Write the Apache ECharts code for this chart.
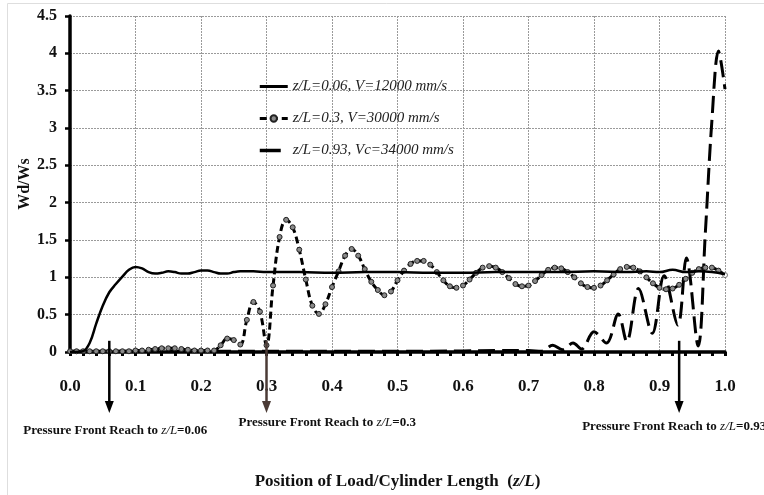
<!DOCTYPE html>
<html><head><meta charset="utf-8">
<script src="https://cdn.jsdelivr.net/npm/echarts@6/dist/echarts.min.js"></script>
<style>html,body{margin:0;padding:0;background:#fff}#c{width:764px;height:495px}</style>
</head><body><div id="c"></div>
<script>
const seriesNames = ['z/L=0.06, V=12000 mm/s', 'z/L=0.3, V=30000 mm/s', 'z/L=0.93, Vc=34000 mm/s'];

const s1X = [0, 0.01, 0.02, 0.03, 0.04, 0.05, 0.06, 0.07, 0.08, 0.09, 0.10, 0.11, 0.12, 0.13, 0.14, 0.15, 0.16, 0.17, 0.18, 0.19, 0.20, 0.21, 0.22, 0.23, 0.24, 0.25, 0.26, 0.28, 0.30, 0.35, 0.40, 0.45, 0.50, 0.55, 0.60, 0.65, 0.70, 0.75, 0.80, 0.85, 0.88, 0.90, 0.92, 0.94, 0.96, 0.98, 1.00];
const s1Y = [0, 0, 0.01, 0.12, 0.38, 0.62, 0.80, 0.91, 1.01, 1.10, 1.14, 1.12, 1.07, 1.05, 1.06, 1.08, 1.07, 1.05, 1.05, 1.07, 1.09, 1.09, 1.07, 1.05, 1.05, 1.07, 1.08, 1.08, 1.07, 1.07, 1.06, 1.07, 1.07, 1.06, 1.06, 1.07, 1.07, 1.07, 1.08, 1.07, 1.08, 1.07, 1.10, 1.07, 1.08, 1.07, 1.04];

const s2X = [0, 0.01, 0.02, 0.03, 0.04, 0.05, 0.06, 0.07, 0.08, 0.09, 0.10, 0.11, 0.12, 0.13, 0.14, 0.15, 0.16, 0.17, 0.18, 0.19, 0.20, 0.21, 0.22, 0.23, 0.24, 0.25, 0.26, 0.27, 0.28, 0.29, 0.30, 0.31, 0.32, 0.33, 0.34, 0.35, 0.36, 0.37, 0.38, 0.39, 0.40, 0.41, 0.42, 0.43, 0.44, 0.45, 0.46, 0.47, 0.48, 0.49, 0.50, 0.51, 0.52, 0.53, 0.54, 0.55, 0.56, 0.57, 0.58, 0.59, 0.60, 0.61, 0.62, 0.63, 0.64, 0.65, 0.66, 0.67, 0.68, 0.69, 0.70, 0.71, 0.72, 0.73, 0.74, 0.75, 0.76, 0.77, 0.78, 0.79, 0.80, 0.81, 0.82, 0.83, 0.84, 0.85, 0.86, 0.87, 0.88, 0.89, 0.90, 0.91, 0.92, 0.93, 0.94, 0.95, 0.96, 0.97, 0.98, 0.99, 1.00];
const s2Y = [0.01, 0.01, 0.01, 0.01, 0.01, 0.01, 0.01, 0.01, 0.01, 0.01, 0.02, 0.02, 0.03, 0.04, 0.05, 0.05, 0.05, 0.04, 0.03, 0.02, 0.02, 0.02, 0.02, 0.09, 0.18, 0.16, 0.10, 0.43, 0.67, 0.54, 0.09, 0.89, 1.54, 1.77, 1.67, 1.37, 0.97, 0.62, 0.51, 0.64, 0.87, 1.08, 1.29, 1.38, 1.29, 1.11, 0.94, 0.83, 0.76, 0.81, 0.96, 1.09, 1.18, 1.22, 1.22, 1.17, 1.07, 0.96, 0.88, 0.86, 0.89, 0.97, 1.06, 1.13, 1.15, 1.13, 1.07, 0.99, 0.91, 0.88, 0.89, 0.95, 1.03, 1.10, 1.13, 1.12, 1.07, 1.00, 0.92, 0.87, 0.86, 0.89, 0.96, 1.04, 1.11, 1.14, 1.13, 1.08, 1.00, 0.92, 0.86, 0.84, 0.85, 0.90, 0.98, 1.06, 1.11, 1.13, 1.13, 1.09, 1.03];

const s3X = [0, 0.10, 0.20, 0.30, 0.40, 0.50, 0.60, 0.65, 0.70, 0.72, 0.737, 0.752, 0.768, 0.781, 0.800, 0.819, 0.837, 0.850, 0.868, 0.889, 0.907, 0.928, 0.941, 0.959, 0.970, 0.980, 0.990, 1.000];
const s3Y = [0.01, 0.01, 0.01, 0.01, 0.01, 0.01, 0.015, 0.02, 0.02, 0.01, 0.09, 0.03, 0.12, 0.04, 0.27, 0.12, 0.51, 0.14, 0.85, 0.25, 1.02, 0.36, 1.26, 0.08, 1.60, 3.10, 4.03, 3.52];

const arrowX = [0.06, 0.3, 0.93];
const arrowValues = ['0.06', '0.3', '0.93'];

const serif = 'Liberation Serif, Times New Roman, serif';
const pair = (xs, ys) => xs.map((x, i) => [x, ys[i]]);

const chart = echarts.init(document.getElementById('c'), null, {renderer: 'canvas'});

const s2Data = pair(s2X, s2Y).map((p, i, a) => i === a.length - 1
  ? {value: p, itemStyle: {color: '#fff', borderColor: '#777'}} : p);

const hideSym = {color: 'rgba(0,0,0,0)', borderColor: 'rgba(0,0,0,0)', borderWidth: 0, opacity: 0};

chart.setOption({
  animation: false,
  backgroundColor: '#fff',
  grid: {left: 70, right: 39, top: 16, bottom: 133, containLabel: false},
  legend: {
    orient: 'vertical', left: 258, top: 79, padding: 0, itemGap: 17, itemWidth: 28, itemHeight: 8,
    textStyle: {fontFamily: serif, fontStyle: 'italic', fontSize: 15, color: '#222', lineHeight: 14.5},
    data: [
      {name: seriesNames[0], itemStyle: hideSym, lineStyle: {width: 3}},
      {name: seriesNames[1], lineStyle: {width: 3}},
      {name: seriesNames[2], itemStyle: hideSym, lineStyle: {width: 3.5, type: [21, 10]}}
    ]
  },
  xAxis: {
    type: 'value', min: 0, max: 1, interval: 0.1,
    name: 'Position of Load/Cylinder Length  ({i|z/L})',
    nameLocation: 'middle', nameGap: 121, nameMoveOverlap: false,
    nameTextStyle: {fontFamily: serif, fontWeight: 'bold', fontSize: 17, color: '#111',
      rich: {i: {fontFamily: serif, fontStyle: 'italic', fontSize: 17, color: '#111'}}},
    axisLine: {show: true, onZero: false, lineStyle: {color: '#000', width: 3.5}},
    axisTick: {show: true, length: 4, lineStyle: {color: '#000', width: 3}},
    minorTick: {show: true, splitNumber: 5, length: 4, lineStyle: {color: '#000', width: 3}},
    axisLabel: {formatter: v => v.toFixed(1), fontFamily: serif, fontWeight: 'bold', fontSize: 17, color: '#111', margin: 26},
    splitLine: {show: true, lineStyle: {color: '#9a9a9a', width: 1, type: [2, 1]}}
  },
  yAxis: {
    type: 'value', min: 0, max: 4.5, interval: 0.5,
    name: 'Wd/Ws', nameLocation: 'middle', nameGap: 37, nameRotate: 90, nameMoveOverlap: false,
    nameTextStyle: {fontFamily: serif, fontWeight: 'bold', fontSize: 16, color: '#111'},
    axisLine: {show: true, lineStyle: {color: '#000', width: 3.5}},
    axisTick: {show: true, length: 5, lineStyle: {color: '#000', width: 2.5}},
    axisLabel: {fontFamily: serif, fontWeight: 'bold', fontSize: 16, color: '#111', margin: 13},
    splitLine: {show: true, lineStyle: {color: '#9a9a9a', width: 1, type: [2, 1]}}
  },
  series: [
    {
      name: seriesNames[2], type: 'line', data: pair(s3X, s3Y), smooth: 0.35,
      symbol: 'none', z: 2,
      lineStyle: {color: '#000', width: 3, type: [17, 7]},
      itemStyle: {color: '#000'}
    },
    {
      name: seriesNames[1], type: 'line', data: s2Data, smooth: 0.4,
      symbol: 'circle', symbolSize: 5, showSymbol: true, z: 3,
      lineStyle: {color: '#000', width: 3, type: [7, 4]},
      itemStyle: {color: '#8a8a8a', borderColor: '#222', borderWidth: 1}
    },
    {
      name: seriesNames[0], type: 'line', data: pair(s1X, s1Y), smooth: 0.4,
      symbol: 'none', z: 4,
      lineStyle: {color: '#000', width: 2.5},
      itemStyle: {color: '#000'}
    }
  ]
});

const textOffsets = [-86, -28, -97];
const textYOffsets = [79, 71, 75];
const arrowColors = ['#000', '#4b3b36', '#000'];
const graphics = [{
  type: 'rect', silent: true, z: -10,
  shape: {x: 7.5, y: 3.5, width: 800, height: 600},
  style: {fill: null, stroke: '#dedede', lineWidth: 1}
}];
arrowX.forEach((x, i) => {
  const top = chart.convertToPixel({gridIndex: 0}, [x, 0.15]);
  const base = chart.convertToPixel({gridIndex: 0}, [x, 0]);
  const tipY = base[1] + 61;
  graphics.push({
    type: 'line', z: 100,
    shape: {x1: top[0], y1: top[1], x2: top[0], y2: tipY - 8},
    style: {stroke: arrowColors[i], lineWidth: 2.5}
  });
  graphics.push({
    type: 'polygon', z: 100,
    shape: {points: [[top[0] - 4.5, tipY - 12], [top[0] + 4.5, tipY - 12], [top[0], tipY]]},
    style: {fill: arrowColors[i]}
  });
  graphics.push({
    type: 'text', z: 100,
    x: top[0] + textOffsets[i], y: base[1] + textYOffsets[i],
    style: {
      text: 'Pressure Front Reach to {i|z/L}=' + arrowValues[i],
      fontFamily: serif, fontWeight: 'bold', fontSize: 13, fill: '#111',
      verticalAlign: 'middle',
      rich: {i: {fontFamily: serif, fontStyle: 'italic', fontSize: 13, fill: '#111'}}
    }
  });
});
chart.setOption({graphic: graphics});
</script>
</body></html>
